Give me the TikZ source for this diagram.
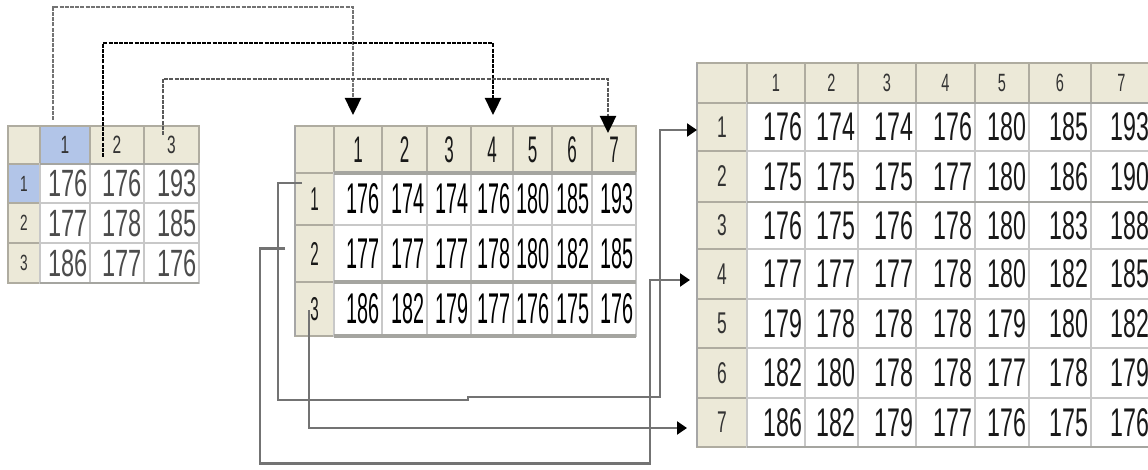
\documentclass[tikz,border=0pt]{standalone}
\usepackage{fontspec}
\newfontfamily\fnA[FakeStretch=0.62]{Liberation Sans}
\newfontfamily\fnB[FakeStretch=0.46]{Liberation Sans}
\newfontfamily\fnC[FakeStretch=0.58]{Liberation Sans}
\usetikzlibrary{arrows.meta,calc}
\definecolor{hdrbg}{RGB}{236,233,216}
\definecolor{selbg}{RGB}{178,197,232}
\definecolor{gridc}{RGB}{200,200,200}
\definecolor{hdrline}{RGB}{175,172,160}
\definecolor{bandc}{RGB}{165,165,160}
\newcommand{\tcell}[7]{%
  \pgfmathsetmacro\cw{#4-#2}\pgfmathsetmacro\ch{#5-#3}\pgfmathsetmacro\tw{#4-#2-5}%
  \node[#6, minimum width=\cw pt, minimum height=\ch pt] (#1) at ({(#2+#4)/2},{(#3+#5)/2}) {#7};}
\tikzset{
  tcellbase/.style={inner sep=0pt, outer sep=0pt, line width=1.4pt},
  hdrc/.style={tcellbase, draw=hdrline, fill=hdrbg, text=black!80},
  selc/.style={tcellbase, draw=hdrline, fill=selbg, text=black!80},
  datac/.style={tcellbase, draw=gridc, fill=white, text width=\tw pt, align=right},
  ahdr/.style={hdrc, font=\fnA\fontsize{25}{25}\selectfont},
  asel/.style={selc, font=\fnA\fontsize{25}{25}\selectfont},
  arow/.style={hdrc, font=\fnA\fontsize{22}{22}\selectfont},
  arowsel/.style={selc, font=\fnA\fontsize{22}{22}\selectfont},
  adata/.style={datac, text=black!70, font=\fnA\fontsize{38}{38}\selectfont},
  bhdr/.style={hdrc, text=black!90, font=\fnB\fontsize{37}{37}\selectfont},
  brow/.style={hdrc, text=black!90, font=\fnB\fontsize{33}{33}\selectfont},
  bdata/.style={datac, text=black, font=\fnB\fontsize{43}{43}\selectfont},
  chdr/.style={hdrc, font=\fnC\fontsize{25}{25}\selectfont},
  crow/.style={hdrc, font=\fnC\fontsize{30}{30}\selectfont},
  cdata/.style={datac, text=black!90, font=\fnC\fontsize{40}{40}\selectfont},
  band/.style={line width=3.5pt, draw=bandc},
  dconn/.style={line width=2.4pt, dash pattern=on 4pt off 1.2pt, -{Triangle[length=17pt,width=16pt,color=black]}},
  sconn/.style={line width=2.2pt, draw=black!55, -{Triangle[length=10pt,width=13pt,color=black]}},
}
\begin{document}
\begin{tikzpicture}[x=1pt, y=-1pt]
\fill[white] (0,0) rectangle (1148,470);
\clip (0,0) rectangle (1148,470);
% ---------- table A ----------
\def\Ax{{8,40,90,144,199}}
\def\Ay{{126,164,203,243,283}}
\foreach \c/\st in {0/ahdr,1/asel,2/ahdr,3/ahdr} {
  \pgfmathsetmacro\xa{\Ax[\c]}\pgfmathsetmacro\xb{\Ax[\c+1]}
  \tcell{A-0-\c}{\xa}{126}{\xb}{164}{\st}{\ifnum\c>0 \c\fi}
}
\foreach \vals [count=\r] in {{176,176,193},{177,178,185},{186,177,176}} {
  \pgfmathsetmacro\ya{\Ay[\r]}\pgfmathsetmacro\yb{\Ay[\r+1]}
  \ifnum\r=1 \def\st{arowsel}\else\def\st{arow}\fi
  \tcell{A-\r-0}{8}{\ya}{40}{\yb}{\st}{\r}
  \foreach \v [count=\c] in \vals {
    \pgfmathsetmacro\xa{\Ax[\c]}\pgfmathsetmacro\xb{\Ax[\c+1]}
    \tcell{A-\r-\c}{\xa}{\ya}{\xb}{\yb}{adata}{\v}
  }
}
\draw[band, line width=2.5pt] (A-0-1.south west) -- (A-0-3.south east);
\draw[band, line width=2.5pt] (A-3-1.south west) -- (A-3-3.south east);
% ---------- table B ----------
\def\Bx{{295,334,382,427,471,513,552,592,636}}
\def\By{{126,173,225,282,336}}
\foreach \c in {0,...,7} {
  \pgfmathsetmacro\xa{\Bx[\c]}\pgfmathsetmacro\xb{\Bx[\c+1]}
  \tcell{B-0-\c}{\xa}{126}{\xb}{173}{bhdr}{\ifnum\c>0 \c\fi}
}
\foreach \vals [count=\r] in {{176,174,174,176,180,185,193},{177,177,177,178,180,182,185},{186,182,179,177,176,175,176}} {
  \pgfmathsetmacro\ya{\By[\r]}\pgfmathsetmacro\yb{\By[\r+1]}
  \tcell{B-\r-0}{295}{\ya}{334}{\yb}{brow}{\r}
  \foreach \v [count=\c] in \vals {
    \pgfmathsetmacro\xa{\Bx[\c]}\pgfmathsetmacro\xb{\Bx[\c+1]}
    \tcell{B-\r-\c}{\xa}{\ya}{\xb}{\yb}{bdata}{\v}
  }
}
\draw[band] (B-0-1.south west) -- (B-0-7.south east);
\draw[band] (B-2-1.south west) -- (B-2-7.south east);
\draw[band] (B-3-1.south west) -- (B-3-7.south east);
\draw[line width=2pt, draw=gray!70] (B-0-0.north west) -- (B-3-0.south west);
% ---------- table C ----------
\def\Cx{{697,747,805,858,916,975,1029,1091,1152}}
\def\Cy{{63,103,151,202,249,299,348,398,447}}
\foreach \c in {0,...,7} {
  \pgfmathsetmacro\xa{\Cx[\c]}\pgfmathsetmacro\xb{\Cx[\c+1]}
  \tcell{C-0-\c}{\xa}{63}{\xb}{103}{chdr}{\ifnum\c>0 \c\fi}
}
\foreach \vals [count=\r] in {{176,174,174,176,180,185,193},{175,175,175,177,180,186,190},{176,175,176,178,180,183,188},{177,177,177,178,180,182,185},{179,178,178,178,179,180,182},{182,180,178,178,177,178,179},{186,182,179,177,176,175,176}} {
  \pgfmathsetmacro\ya{\Cy[\r]}\pgfmathsetmacro\yb{\Cy[\r+1]}
  \tcell{C-\r-0}{697}{\ya}{747}{\yb}{crow}{\r}
  \foreach \v [count=\c] in \vals {
    \pgfmathsetmacro\xa{\Cx[\c]}\pgfmathsetmacro\xb{\Cx[\c+1]}
    \tcell{C-\r-\c}{\xa}{\ya}{\xb}{\yb}{cdata}{\v}
  }
}
\draw[band, line width=2.5pt] (C-0-1.south west) -- (C-0-7.south east);
\draw[band, line width=2.5pt] (C-2-1.south west) -- (C-2-7.south east);
\draw[band, line width=2.5pt] (C-7-1.south west) -- (C-7-7.south east);
\draw[line width=2pt, draw=gray!70] (C-0-0.north west) -- (C-7-0.south west);
% ---------- connector end points ----------
\coordinate (s1) at ($(A-0-1.north)+(-12,-6)$);
\coordinate (s2) at ($(A-0-2.north)+(-14,31)$);
\coordinate (s3) at ($(A-0-3.north)+(-8.5,9)$);
\coordinate (t1) at ($(B-0-1.north)+(-5,-11)$);
\coordinate (t2) at ($(B-0-4.north)+(1,-11)$);
\coordinate (t3) at ($(B-0-7.north)+(-6,7)$);
\coordinate (s4) at ($(B-1-0.north west)+(7,10)$);
\coordinate (s5) at ($(B-2-0.west)+(-10,-5)$);
\coordinate (s6) at ($(B-3-0.center)+(-5.5,1)$);
\coordinate (e1) at ($(C-1-0.west)+(0,3)$);
\coordinate (e4) at ($(C-4-0.west)+(-7,6)$);
\coordinate (e7) at ($(C-7-0.west)+(-10,5.5)$);
% ---------- column connectors ----------
\draw[dconn, black!55] (s1) -- ++(0,-113) -| (t1);
\draw[dconn, black] (s2) -- ++(0,-114) -| (t2);
\draw[dconn, black!65] (s3) -- ++(0,-56) -| (t3);
% ---------- row connectors ----------
\draw[sconn] (s4) -- ++(-24,0) -- ++(0,217) -- ++(190,0) -- ++(0,-3) -- ++(192,0) |- (e1);
\draw[sconn] (s5) -- ++(-25,0) -- ++(0,215) -- ++(390,0) |- (e4);
\draw[sconn] (s6) |- (e7);
\end{tikzpicture}
\end{document}
